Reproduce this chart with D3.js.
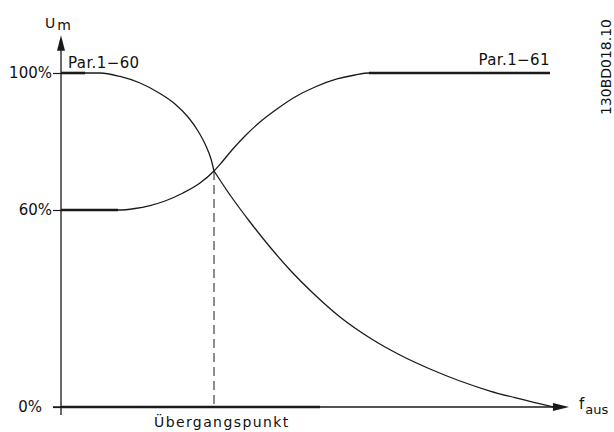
<!DOCTYPE html>
<html>
<head>
<meta charset="utf-8">
<script src="https://cdn.jsdelivr.net/npm/d3@7"></script>
<style>
body { margin: 0; background: #fff; }
svg { display: block; }
text { font-family: "DejaVu Sans", sans-serif; fill: #111; }
</style>
</head>
<body>
<div id="chart"></div>
<script>
const W = 614, H = 432

// x = position on f_aus axis (% of axis length), u = U_m in %
const par60F = [0, 7.77, 11.75, 15.74, 19.72, 22.71, 25.30, 27.29, 28.88, 29.88, 30.48, 33.67, 37.65, 41.63, 45.62, 50.60, 55.58, 61.55, 67.53, 73.51, 79.48, 85.46, 91.43, 98.01]
const par60U = [100, 100, 98.98, 97.08, 94.01, 90.95, 87.15, 83.07, 78.69, 74.89, 71.39, 64.38, 56.35, 48.73, 41.73, 34.11, 27.41, 21.02, 15.84, 11.57, 7.92, 4.87, 2.44, 0]
const par61F = [0, 11.35, 14.74, 17.73, 20.72, 24.30, 27.69, 30.48, 32.07, 34.06, 36.65, 39.64, 43.03, 46.61, 50.60, 54.98, 58.57, 61.35, 97.41]
const par61U = [60, 60, 60.44, 61.31, 62.63, 64.96, 67.88, 71.39, 74.01, 77.52, 81.61, 85.69, 89.49, 92.99, 95.91, 98.25, 99.42, 100, 100]

// bold (parameter) segments
const boldStart = [0, 0, 61.35, 0]
const boldEnd = [4.8, 11.35, 97.41, 51.6]
const boldLevel = [100, 60, 100, 0]

// transition point
const crossF = 30.48
const crossU = 71.39

const tickValues = [0, 60, 100]
const tickLabels = ["0%", "60%", "100%"]

const x = d3.scaleLinear().domain([0, 100]).range([61, 563])
// schematic, not linear: piecewise
const y = d3.scaleLinear().domain([0, 60, 100]).range([407, 210, 73])

const svg = d3.select("#chart").append("svg")
    .attr("width", W)
    .attr("height", H)

const ink = "#1a1a1a"

// y axis
const yAxis = d3.axisLeft(y)
    .tickValues(tickValues)
    .tickSize(8)
    .tickPadding(1)
    .tickFormat((d, i) => tickLabels[i])
const gy = svg.append("g")
    .attr("transform", `translate(${x(0)},0)`)
    .call(yAxis)
gy.select(".domain").remove()
gy.selectAll(".tick line").attr("stroke", ink).attr("stroke-width", 1.2)
gy.selectAll(".tick text")
    .attr("font-size", 15)
    .attr("fill", ink)
    .attr("dx", d => d === 0 ? -10 : 0)

// axis lines
svg.append("line")
    .attr("x1", x(0)).attr("x2", x(0))
    .attr("y1", y(0) + 8).attr("y2", y(108))
    .attr("stroke", ink).attr("stroke-width", 1.3)
svg.append("line")
    .attr("x1", x(0) - 8).attr("x2", x(98.5))
    .attr("y1", y(0)).attr("y2", y(0))
    .attr("stroke", ink).attr("stroke-width", 1.3)

// arrow heads
svg.append("path")
    .attr("d", `M${x(0)},${y(111)} L${x(0) - 4},${y(106.5)} L${x(0) + 4},${y(106.5)} Z`)
    .attr("fill", ink)
svg.append("path")
    .attr("d", `M${x(101.2)},${y(0)} L${x(98)},${y(0) - 4} L${x(98)},${y(0) + 4} Z`)
    .attr("fill", ink)

// dashed line at transition point
svg.append("line")
    .attr("x1", x(crossF)).attr("x2", x(crossF))
    .attr("y1", y(crossU)).attr("y2", y(0))
    .attr("stroke", "#333").attr("stroke-width", 1.1)
    .attr("stroke-dasharray", "9,5")

const line = d3.line()
    .x(d => x(d[0]))
    .y(d => y(d[1]))
    .curve(d3.curveMonotoneX)

// Par.1-60 has a kink at the transition point, draw it in two pieces
const p60 = d3.zip(par60F, par60U)
const k = par60F.indexOf(crossF)
const pieces = [p60.slice(0, k + 1), p60.slice(k), d3.zip(par61F, par61U)]

svg.selectAll(".curve")
    .data(pieces)
    .enter().append("path")
    .attr("class", "curve")
    .attr("d", line)
    .attr("fill", "none")
    .attr("stroke", ink)
    .attr("stroke-width", 1.3)

// bold parameter segments
svg.selectAll(".bold")
    .data(d3.zip(boldStart, boldEnd, boldLevel))
    .enter().append("line")
    .attr("class", "bold")
    .attr("x1", d => x(d[0]))
    .attr("x2", d => x(d[1]))
    .attr("y1", d => y(d[2]))
    .attr("y2", d => y(d[2]))
    .attr("stroke", ink)
    .attr("stroke-width", 2.6)

// labels
svg.append("text")
    .attr("x", x(1.4)).attr("y", y(101.5))
    .attr("font-size", 15)
    .attr("letter-spacing", 0.4)
    .text("Par.1\u221260")
svg.append("text")
    .attr("x", x(97.4)).attr("y", y(102.3))
    .attr("text-anchor", "end")
    .attr("font-size", 15)
    .attr("letter-spacing", 0.4)
    .text("Par.1\u221261")

svg.append("text")
    .attr("x", 45).attr("y", 28)
    .attr("font-size", 14)
    .text("U")
    .append("tspan")
    .attr("dx", 2).attr("dy", 2)
    .text("m")

svg.append("text")
    .attr("x", x(101.2) + 10).attr("y", y(0) + 2)
    .attr("font-size", 15)
    .text("f")
    .append("tspan")
    .attr("dx", 1).attr("dy", 5)
    .attr("font-size", 13)
    .text("aus")

svg.append("text")
    .attr("x", 154).attr("y", 427)
    .attr("font-size", 14)
    .attr("letter-spacing", 1.4)
    .text("\u00dcbergangspunkt")

svg.append("text")
    .attr("transform", "translate(611,19) rotate(-90)")
    .attr("text-anchor", "end")
    .attr("font-size", 14)
    .text("130BD018.10")
</script>
</body>
</html>
